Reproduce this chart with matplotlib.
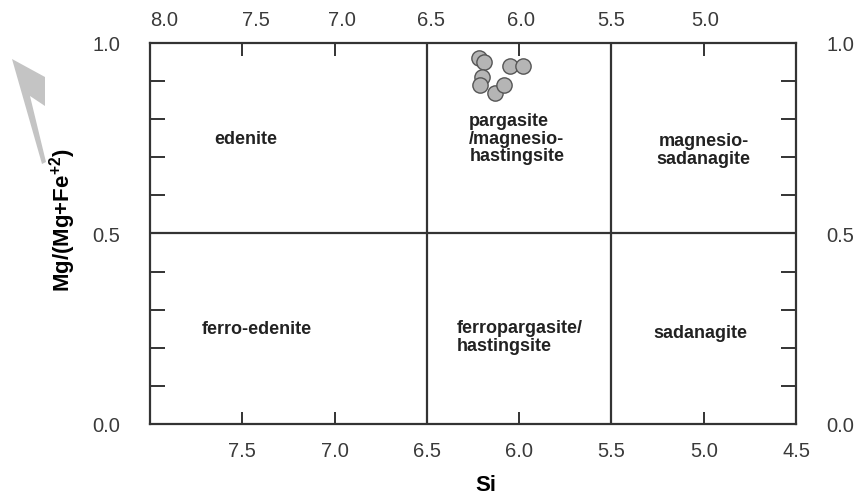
import numpy as np
import matplotlib
matplotlib.use("Agg")
import matplotlib.pyplot as plt
import matplotlib.transforms as mtransforms
from matplotlib.patches import Polygon

plt.rcParams['font.family'] = ['Liberation Sans', 'DejaVu Sans']
plt.rcParams['mathtext.fontset'] = 'custom'
plt.rcParams['mathtext.rm'] = 'Liberation Sans'
plt.rcParams['mathtext.bf'] = 'Liberation Sans:bold'

# Données : analyses d'amphiboles
si = [6.22, 6.19, 6.05, 5.98, 6.20, 6.21, 6.13, 6.08]
mg_ratio = [0.96, 0.95, 0.94, 0.94, 0.91, 0.89, 0.87, 0.89]

# Limites des champs de classification
si_limites = [6.5, 5.5]
mg_limite = 0.5

# Noms des champs (x, y, texte, alignement)
champs = [
    (7.48, 0.75, "edenite", "center"),
    (6.27, 0.75, "pargasite\n/magnesio-\nhastingsite", "left"),
    (5.00, 0.72, "magnesio-\nsadanagite", "center"),
    (7.42, 0.25, "ferro-edenite", "center"),
    (6.34, 0.23, "ferropargasite/\nhastingsite", "left"),
    (5.02, 0.24, "sadanagite", "center"),
]

ticks_bas = [7.5, 7.0, 6.5, 6.0, 5.5, 5.0, 4.5]
ticks_haut = [8.0, 7.5, 7.0, 6.5, 6.0, 5.5, 5.0]
ticks_y = [0.0, 0.5, 1.0]

fig = plt.figure(figsize=(8.6, 5.02), dpi=100)
ax = fig.add_axes([0.1744, 0.1534, 0.7512, 0.759])

couleur_axe = "#333333"
for s in ax.spines.values():
    s.set_color(couleur_axe)
    s.set_linewidth(1.6)

for x in si_limites:
    ax.axvline(x, color=couleur_axe, lw=1.6)
ax.axhline(mg_limite, color=couleur_axe, lw=1.6)

ax.plot(si, mg_ratio, "o", markersize=11, markerfacecolor="#b5b5b5",
        markeredgecolor="#555555", markeredgewidth=1.0, zorder=5)

for x, y, t, ha in champs:
    ax.text(x, y, t, ha=ha, va="center", fontsize=13, fontweight="bold",
            color="#222222", linespacing=1.05)

ax.set_xlim(8.0, 4.5)
ax.set_ylim(0.0, 1.0)

# Axe du bas
ax.set_xticks(ticks_bas)
ax.set_xticklabels([f"{v:.1f}" for v in ticks_bas])
ax.tick_params(axis="x", direction="in", length=9, width=1.4, color=couleur_axe,
               pad=12, labelsize=14.5, labelcolor="#3a3a3a")

# Axe de gauche
ax.set_yticks(ticks_y)
ax.set_yticklabels([f"{v:.1f}" for v in ticks_y])
ax.set_yticks(np.arange(0.1, 1.0, 0.1), minor=True)
ax.tick_params(axis="y", which="both", direction="in", length=9, width=1.4,
               color=couleur_axe, pad=21.5, labelsize=14.5, labelcolor="#3a3a3a")
ax.tick_params(axis="y", which="minor", length=11)

# Axe du haut
ax_haut = ax.twiny()
ax_haut.set_xlim(ax.get_xlim())
ax_haut.set_xticks(ticks_haut)
ax_haut.set_xticklabels([f"{v:.1f}" for v in ticks_haut])
ax_haut.tick_params(axis="x", direction="in", length=9, width=1.4, color=couleur_axe,
                    pad=10, labelsize=14.5, labelcolor="#3a3a3a")
for s in ax_haut.spines.values():
    s.set_visible(False)
# léger décalage des étiquettes du haut vers la droite, comme sur l'original
decalages = [14, 14, 7, 4, 2, 0, 1]
for lab, dx in zip(ax_haut.get_xticklabels(), decalages):
    lab.set_transform(lab.get_transform() +
                      mtransforms.ScaledTranslation(dx / 100, 0, fig.dpi_scale_trans))

# Axe de droite
ax_droite = ax.twinx()
ax_droite.set_ylim(ax.get_ylim())
ax_droite.set_yticks(ticks_y)
ax_droite.set_yticklabels([f"{v:.1f}" for v in ticks_y])
ax_droite.set_yticks(np.arange(0.1, 1.0, 0.1), minor=True)
ax_droite.tick_params(axis="y", which="both", direction="in", length=11, width=1.4,
                      color=couleur_axe, pad=22, labelsize=14.5, labelcolor="#3a3a3a")
for s in ax_droite.spines.values():
    s.set_visible(False)

ax.set_xlabel("Si", fontsize=16, fontweight="bold")
ax.xaxis.set_label_coords(0.52, -0.13)
ax.set_ylabel(r"Mg/(Mg+Fe$^{\mathbf{+2}}$)", fontsize=16, fontweight="bold")
ax.yaxis.set_label_coords(-0.111, 0.537)

# Flèche grise décorative en haut à gauche
W, H = 860.0, 502.0
fleche_px = [(12, 60), (45, 78), (45, 107), (30, 97), (46, 163), (42, 165)]
fleche = Polygon([(x / W, 1 - y / H) for x, y in fleche_px], closed=True,
                 transform=fig.transFigure, facecolor="#c4c4c4", edgecolor="none")
fig.patches.append(fleche)

fig.savefig("out.png", dpi=100)
